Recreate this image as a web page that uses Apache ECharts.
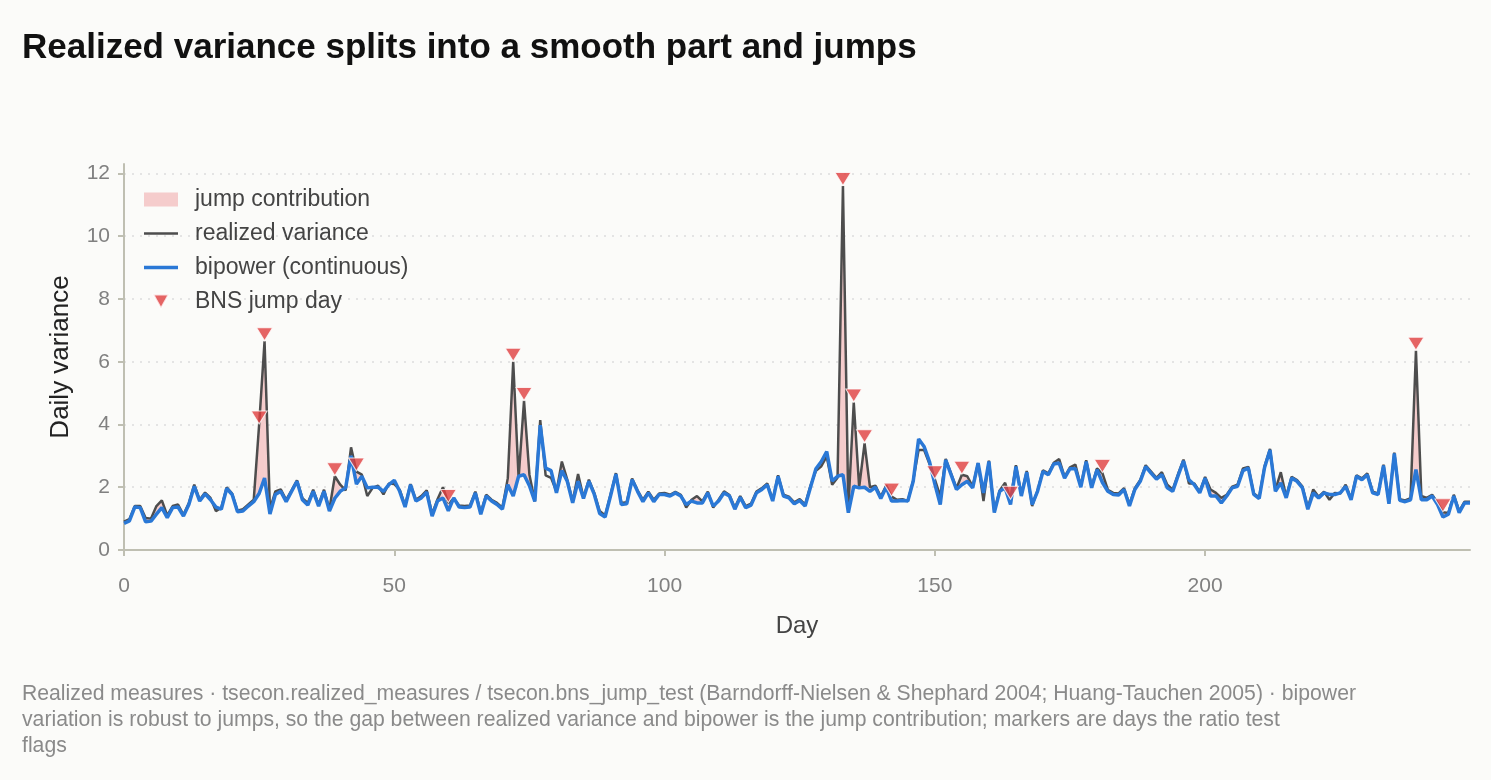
<!DOCTYPE html>
<html>
<head>
<meta charset="utf-8">
<script src="https://cdn.jsdelivr.net/npm/echarts@6/dist/echarts.min.js"></script>
<style>
  html, body { margin: 0; padding: 0; background: #fbfbf9; }
  #chart { width: 1491px; height: 780px; }
</style>
</head>
<body>
<div id="chart"></div>
<script>
// daily bipower variation (continuous part)
var bipower = [
  0.85, 0.93, 1.37, 1.35, 0.9, 0.92, 1.14, 1.35, 1.03, 1.35,
  1.37, 1.08, 1.45, 2.03, 1.56, 1.79, 1.6, 1.37, 1.3, 1.96,
  1.77, 1.22, 1.24, 1.4, 1.54, 1.8, 2.29, 1.15, 1.77, 1.87,
  1.54, 1.87, 2.19, 1.6, 1.43, 1.87, 1.4, 1.87, 1.24, 1.65,
  1.87, 1.98, 3.0, 2.1, 2.35, 1.98, 2.0, 2.0, 1.87, 2.08,
  2.22, 1.87, 1.37, 2.08, 1.56, 1.66, 1.84, 1.08, 1.56, 1.66,
  1.25, 1.66, 1.37, 1.35, 1.37, 1.82, 1.14, 1.72, 1.56, 1.45,
  1.3, 2.08, 1.72, 2.35, 2.4, 2.05, 1.55, 3.98, 2.61, 2.53,
  1.82, 2.53, 2.19, 1.5, 2.19, 1.64, 2.19, 1.77, 1.16, 1.05,
  1.72, 2.42, 1.45, 1.47, 2.24, 1.87, 1.54, 1.82, 1.54, 1.77,
  1.77, 1.72, 1.82, 1.72, 1.45, 1.56, 1.5, 1.5, 1.82, 1.4,
  1.56, 1.82, 1.72, 1.3, 1.68, 1.35, 1.43, 1.82, 1.93, 2.08,
  1.56, 2.35, 1.72, 1.66, 1.47, 1.58, 1.4, 2.0, 2.59, 2.82,
  3.14, 2.2, 2.35, 2.4, 1.19, 2.03, 1.98, 2.0, 1.87, 2.0,
  1.64, 2.0, 1.56, 1.56, 1.58, 1.56, 2.19, 3.54, 3.3, 2.82,
  2.1, 1.45, 2.87, 2.4, 1.93, 2.08, 2.19, 1.98, 2.77, 1.82,
  2.82, 1.19, 1.87, 1.98, 1.45, 2.66, 1.72, 2.48, 1.45, 1.87,
  2.5, 2.4, 2.74, 2.77, 2.29, 2.59, 2.59, 2.0, 2.82, 1.98,
  2.56, 2.15, 1.87, 1.77, 1.75, 1.93, 1.4, 1.93, 2.19, 2.66,
  2.45, 2.26, 2.4, 1.98, 1.87, 2.37, 2.84, 2.24, 2.08, 1.82,
  2.29, 1.72, 1.72, 1.5, 1.72, 1.98, 2.03, 2.53, 2.61, 1.77,
  1.64, 2.63, 3.19, 1.87, 2.14, 1.66, 2.29, 2.19, 1.98, 1.3,
  1.82, 1.66, 1.82, 1.77, 1.77, 1.82, 2.03, 1.6, 2.35, 2.24,
  2.4, 1.82, 1.77, 2.69, 1.47, 3.08, 1.58, 1.54, 1.6, 2.56,
  1.6, 1.6, 1.72, 1.45, 1.05, 1.14, 1.72, 1.19, 1.5, 1.5
];

// daily realized variance
var realized = [
  0.9, 0.98, 1.4, 1.4, 1.02, 1.0, 1.4, 1.58, 1.1, 1.4,
  1.45, 1.12, 1.5, 2.08, 1.6, 1.83, 1.66, 1.24, 1.35, 2.0,
  1.8, 1.25, 1.3, 1.45, 1.6, 4.0, 6.65, 1.3, 1.87, 1.93,
  1.6, 1.9, 2.22, 1.65, 1.5, 1.92, 1.45, 1.92, 1.3, 2.35,
  2.08, 1.9, 3.27, 2.5, 2.4, 1.72, 1.98, 2.05, 1.77, 2.12,
  2.1, 1.92, 1.42, 2.1, 1.6, 1.72, 1.9, 1.15, 1.62, 2.0,
  1.5, 1.64, 1.42, 1.4, 1.42, 1.86, 1.2, 1.76, 1.6, 1.5,
  1.35, 2.29, 6.0, 2.3, 4.75, 2.4, 1.55, 4.14, 2.38, 2.3,
  1.86, 2.82, 2.24, 1.55, 2.42, 1.68, 2.24, 1.82, 1.24, 1.1,
  1.76, 2.45, 1.5, 1.52, 2.28, 1.9, 1.6, 1.86, 1.6, 1.8,
  1.82, 1.76, 1.85, 1.76, 1.35, 1.6, 1.72, 1.55, 1.86, 1.35,
  1.6, 1.87, 1.75, 1.35, 1.72, 1.4, 1.48, 1.86, 1.97, 2.12,
  1.6, 2.38, 1.76, 1.7, 1.52, 1.62, 1.45, 2.05, 2.52, 2.67,
  2.98, 2.08, 2.3, 11.6, 1.35, 4.7, 2.0, 3.4, 2.0, 2.05,
  1.7, 2.05, 1.7, 1.6, 1.62, 1.56, 2.22, 3.19, 3.19, 2.75,
  2.25, 1.72, 2.9, 2.44, 1.97, 2.4, 2.35, 2.02, 2.77, 1.56,
  2.85, 1.24, 1.9, 2.14, 1.6, 2.7, 1.76, 2.52, 1.4, 1.9,
  2.54, 2.44, 2.78, 2.9, 2.33, 2.63, 2.72, 2.04, 2.86, 2.02,
  2.6, 2.45, 1.92, 1.82, 1.8, 1.97, 1.45, 1.97, 2.23, 2.7,
  2.5, 2.3, 2.48, 2.08, 1.92, 2.42, 2.88, 2.12, 2.12, 1.86,
  2.33, 1.93, 1.82, 1.66, 1.76, 2.02, 2.08, 2.6, 2.65, 1.8,
  1.68, 2.67, 3.22, 1.92, 2.48, 1.7, 2.33, 2.23, 2.02, 1.35,
  1.93, 1.7, 1.86, 1.6, 1.82, 1.8, 2.08, 1.64, 2.38, 2.28,
  2.44, 1.86, 1.8, 2.72, 1.5, 3.1, 1.62, 1.58, 1.65, 6.35,
  1.72, 1.66, 1.76, 1.5, 1.2, 1.18, 1.76, 1.24, 1.54, 1.54
];

// days flagged by the BNS ratio test
var jumpDays = [25, 26, 39, 43, 60, 72, 74, 133, 135, 137, 142, 150, 155, 164, 181, 239, 244];

var yTicks = [0, 2, 4, 6, 8, 10, 12];

var rvData = [], bvData = [], bandData = [];
for (var i = 0; i < realized.length; i++) {
  rvData.push([i, realized[i]]);
  bvData.push([i, bipower[i]]);
  if (i < realized.length - 1) {
    // one band segment between day i and day i+1: upper = max(rv, bv), lower = bv
    bandData.push([i, Math.max(realized[i], bipower[i]), bipower[i],
                   Math.max(realized[i + 1], bipower[i + 1]), bipower[i + 1]]);
  }
}
var jumpData = jumpDays.map(function (d) { return [d, realized[d]]; });

var font = '"Liberation Sans", Arial, Helvetica, sans-serif';
var downTri = 'path://M0,0L10,0L5,9Z';
var pink = '#f5cccc';
var red = '#e03e3e';

function renderBand(params, api) {
  var d = api.value(0);
  var p1 = api.coord([d, api.value(1)]);
  var p2 = api.coord([d + 1, api.value(3)]);
  var p3 = api.coord([d + 1, api.value(4)]);
  var p4 = api.coord([d, api.value(2)]);
  return {
    type: 'polygon',
    shape: { points: [p1, p2, p3, p4] },
    style: { fill: pink, stroke: pink, lineWidth: 0.6 }
  };
}

var chart = echarts.init(document.getElementById('chart'));
var option = {
  backgroundColor: '#fbfbf9',
  animation: false,
  textStyle: { fontFamily: font },
  title: {
    text: 'Realized variance splits into a smooth part and jumps',
    left: 17,
    top: 26,
    textStyle: { fontSize: 35, fontWeight: 'bold', color: '#111', fontFamily: font }
  },
  graphic: [{
    type: 'text',
    left: 22,
    top: 681,
    style: {
      text: 'Realized measures \u00b7 tsecon.realized_measures / tsecon.bns_jump_test (Barndorff-Nielsen & Shephard 2004; Huang-Tauchen 2005) \u00b7 bipower\n' +
            'variation is robust to jumps, so the gap between realized variance and bipower is the jump contribution; markers are days the ratio test\n' +
            'flags',
      fill: '#8a8a8a',
      font: '21.2px ' + font,
      lineHeight: 26
    }
  }],
  legend: {
    orient: 'vertical',
    left: 139,
    top: 183,
    itemWidth: 34,
    itemHeight: 14,
    itemGap: 11,
    textStyle: { fontSize: 23, color: '#444', padding: [0, 0, 0, 12] },
    data: [
      { name: 'jump contribution', icon: 'rect', itemStyle: { color: pink } },
      { name: 'realized variance', icon: 'path://M0,0L34,0L34,2.6L0,2.6Z', itemStyle: { color: '#4d4d4d' } },
      { name: 'bipower (continuous)', icon: 'path://M0,0L34,0L34,3.6L0,3.6Z', itemStyle: { color: '#2a78d6' } },
      { name: 'BNS jump day', icon: downTri, itemStyle: { color: red } }
    ]
  },
  grid: { left: 124, right: 21, top: 164, bottom: 230 },
  xAxis: {
    type: 'value',
    min: 0,
    max: 249,
    interval: 50,
    name: 'Day',
    nameLocation: 'middle',
    nameGap: 64,
    nameTextStyle: { fontSize: 24, color: '#444' },
    axisLine: { lineStyle: { color: '#bfbfb2', width: 2 } },
    axisTick: { show: true, length: 6, lineStyle: { color: '#bfbfb2', width: 2 } },
    axisLabel: { fontSize: 21, color: '#808080', margin: 26, showMaxLabel: false },
    splitLine: { show: false }
  },
  yAxis: {
    type: 'value',
    min: 0,
    max: 12.3,
    interval: 2,
    name: 'Daily variance',
    nameLocation: 'middle',
    nameGap: 50,
    nameTextStyle: { fontSize: 26, color: '#222' },
    axisLine: { show: true, lineStyle: { color: '#bfbfb2', width: 2 } },
    axisTick: { show: true, length: 6, lineStyle: { color: '#bfbfb2', width: 2 } },
    axisLabel: {
      fontSize: 21, color: '#808080', margin: 14, showMaxLabel: false,
      formatter: function (v) { return yTicks.indexOf(v) >= 0 ? String(v) : ''; }
    },
    splitLine: { show: false }
  },
  series: [
    {
      // dotted horizontal gridlines at the labelled ticks only
      name: 'grid',
      type: 'line',
      data: [],
      silent: true,
      z: 0,
      markLine: {
        silent: true,
        z: 0,
        symbol: 'none',
        label: { show: false },
        lineStyle: { color: '#dddddd', type: [2, 6], width: 1.5 },
        data: yTicks.slice(1).map(function (v) { return { yAxis: v }; })
      }
    },
    {
      name: 'jump contribution',
      type: 'custom',
      renderItem: renderBand,
      data: bandData,
      encode: { x: 0, y: [1, 2, 3, 4] },
      itemStyle: { color: pink },
      silent: true,
      z: 1
    },
    {
      name: 'realized variance',
      type: 'line',
      data: rvData,
      symbol: 'none',
      itemStyle: { color: '#4d4d4d' },
      lineStyle: { color: '#4d4d4d', width: 2.5 },
      z: 2
    },
    {
      name: 'bipower (continuous)',
      type: 'line',
      data: bvData,
      symbol: 'none',
      itemStyle: { color: '#2a78d6' },
      lineStyle: { color: '#2a78d6', width: 3.5 },
      z: 3
    },
    {
      name: 'BNS jump day',
      type: 'scatter',
      data: jumpData,
      symbol: downTri,
      symbolSize: [16, 13],
      symbolOffset: [0, -7],
      itemStyle: { color: red, borderColor: '#ffffff', borderWidth: 1 },
      z: 5
    }
  ]
};
chart.setOption(option);
</script>
</body>
</html>
